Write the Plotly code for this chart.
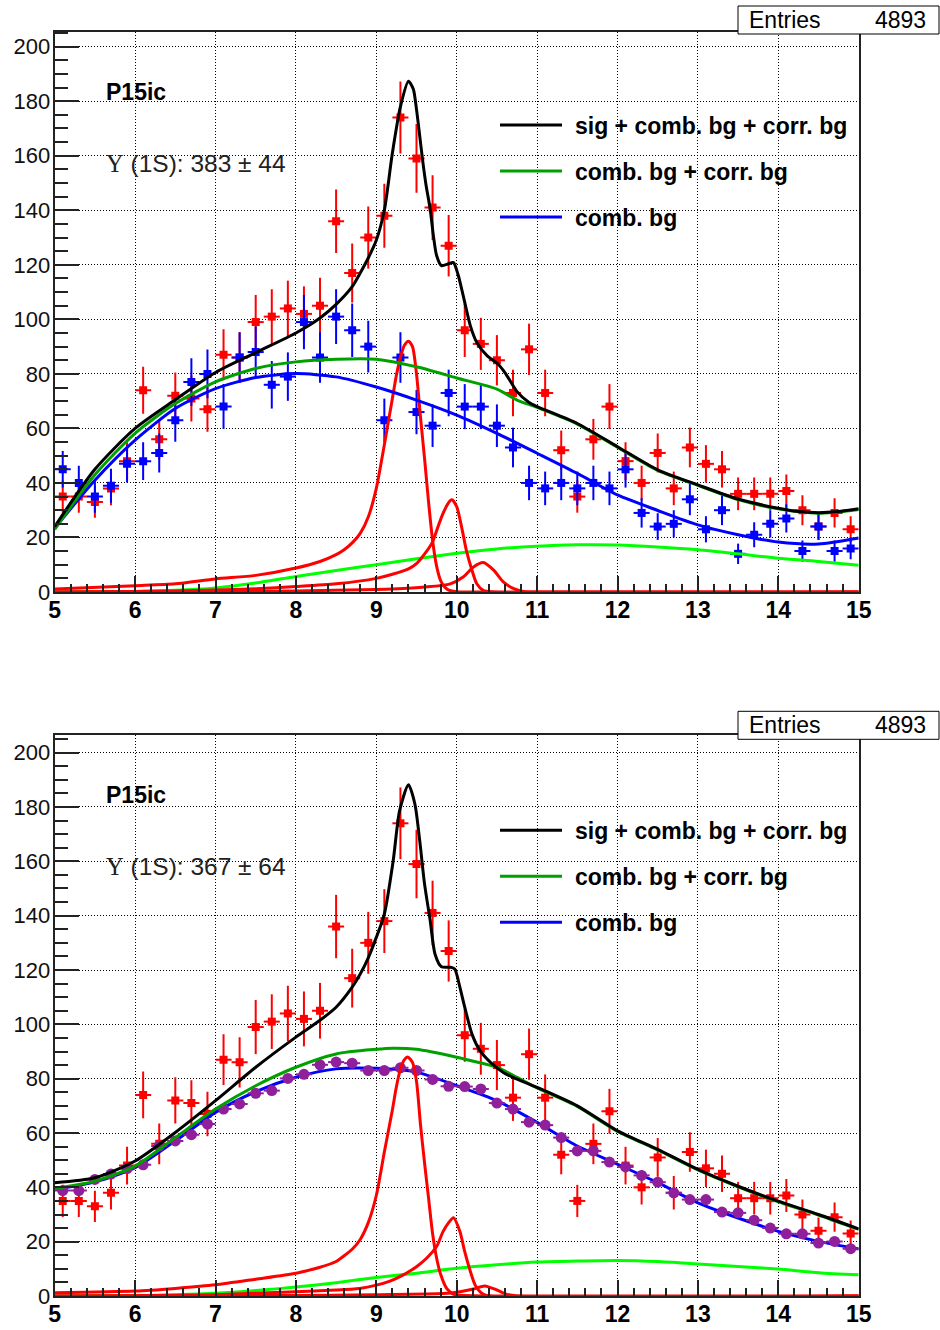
import numpy as np
import plotly.graph_objects as go

# ---------------- data ----------------
mass = [5.1, 5.3, 5.5, 5.7, 5.9, 6.1, 6.3, 6.5, 6.7, 6.9,
        7.1, 7.3, 7.5, 7.7, 7.9, 8.1, 8.3, 8.5, 8.7, 8.9,
        9.1, 9.3, 9.5, 9.7, 9.9, 10.1, 10.3, 10.5, 10.7, 10.9,
        11.1, 11.3, 11.5, 11.7, 11.9, 12.1, 12.3, 12.5, 12.7, 12.9,
        13.1, 13.3, 13.5, 13.7, 13.9, 14.1, 14.3, 14.5, 14.7, 14.9]

unlike_sign = [35, 35, 33, 38, 48, 74, 56, 72, 71, 67,
               87, 86, 99, 101, 104, 102, 105, 136, 117, 130,
               138, 174, 159, 141, 127, 96, 91, 85, 73, 89,
               73, 52, 35, 56, 68, 48, 40, 51, 38, 53,
               47, 45, 36, 36, 36, 37, 30, 24, 29, 23]

like_sign = [45, 40, 35, 39, 47, 48, 51, 63, 77, 80,
             68, 86, 88, 76, 79, 99, 86, 101, 96, 90,
             63, 86, 66, 61, 73, 68, 68, 61, 53, 40,
             38, 40, 38, 40, 38, 45, 29, 24, 25, 34,
             23, 30, 14, 21, 25, 27, 15, 24, 15, 16]

mixed_event = [38.8, 38.8, 42.9, 44.9, 46.9, 48.3, 55.2, 57.1, 59.4, 63.3,
               68.8, 70.7, 74.6, 75.6, 80.1, 81.6, 85.1, 86.1, 85.7, 83.0,
               83.0, 84.0, 83.0, 79.7, 77.2, 77.1, 76.2, 71.0, 68.8, 64.0,
               62.9, 58.3, 53.4, 53.4, 49.3, 47.5, 44.4, 41.9, 38.0, 35.5,
               35.5, 30.9, 30.6, 27.9, 25.0, 22.9, 22.9, 19.5, 20.1, 17.4]

entries = 4893
label_run = "P15ic"
yield_top = "383 ± 44"
yield_bot = "367 ± 64"

# --- top panel fit curves ---
t_total_x = [5.0, 5.5, 6.0, 6.5, 7.0, 7.5, 8.0, 8.3, 8.5, 8.7, 8.8, 8.9, 9.0, 9.1, 9.2, 9.3, 9.4, 9.46,
             9.5, 9.54, 9.58, 9.62, 9.67, 9.71, 9.75, 9.81, 9.9, 9.96, 10.02, 10.08, 10.17, 10.25,
             10.38, 10.5, 10.6, 10.75, 10.9, 11.0, 11.5, 12.0, 12.5, 13.0, 13.5, 14.0, 14.25, 14.5, 14.75, 15.0]
t_total_y = [24, 45, 60, 70.5, 80.5, 87.8, 95, 100.5, 105.5, 112, 117, 122.5, 129, 140, 161, 178, 187.3, 184.5,
             177, 167.3, 157.5, 149, 140.5, 130.7, 123.4, 119.7, 120.4, 120.8, 116.1, 108.8, 97.6, 91.5,
             86.6, 84, 80.5, 73.5, 69.5, 68, 61.8, 53.3, 44.8, 39.3, 34.1, 30.7, 29.5, 29.1, 29.5, 30.5]

t_bgsum_x = [5.0, 5.5, 6.0, 6.5, 7.0, 7.5, 8.0, 8.5, 9.0, 9.5, 10.0, 10.5, 10.75, 11.0, 11.5, 12.0,
             12.5, 13.0, 13.5, 14.0, 14.5, 15.0]
t_bgsum_y = [23, 43, 58.2, 69.1, 77.1, 82, 84.4, 85.4, 85.4, 82.6, 78.5, 74.4, 70.4, 67.7, 61.6, 53.1,
             44.6, 39.1, 33.9, 30.5, 28.9, 30.3]

t_comb_x = [5.0, 5.5, 6.0, 6.5, 7.0, 7.5, 8.0, 8.5, 9.0, 9.5, 10.0, 10.5, 11.0, 11.5, 12.0, 12.5,
            13.0, 13.5, 14.0, 14.5, 15.0]
t_comb_y = [23.4, 41, 55.7, 67.3, 74.6, 78.7, 80.1, 78.9, 75.2, 70.4, 64.9, 58.2, 50.9, 43.5, 35.6, 29.9,
            24.6, 21, 18.3, 17.6, 19.8]

t_corr_x = [5.0, 6.0, 6.5, 7.0, 7.5, 8.0, 8.5, 9.0, 9.5, 10.0, 10.5, 11.0, 11.5, 12.0, 12.5, 13.0,
            13.5, 14.0, 14.5, 15.0]
t_corr_y = [0, 0.2, 0.6, 1.5, 3.3, 5.7, 7.9, 10, 12.2, 14.2, 15.8, 16.8, 17.3, 17.2, 16.5, 15.5,
            14, 12.4, 11.2, 9.8]

t_1s_x = [5.0, 6.0, 6.5, 7.0, 7.5, 8.0, 8.3, 8.5, 8.6, 8.7, 8.8, 8.9, 9.0, 9.1, 9.2, 9.25, 9.3, 9.35,
          9.4, 9.45, 9.5, 9.55, 9.6, 9.65, 9.7, 9.75, 9.8, 9.85, 9.9, 10.0, 10.5, 15.0]
t_1s_y = [1.1, 2.3, 3.0, 4.8, 6.1, 8.8, 11.2, 13.7, 15.5, 18, 21.5, 27.5, 38, 54, 71, 79.5, 86, 90.5,
          92, 90, 80, 64, 49, 33, 19, 9.5, 4.2, 1.8, 0.7, 0.1, 0, 0]

t_2s_x = [5.0, 6.0, 7.0, 7.5, 8.0, 8.5, 9.0, 9.2, 9.4, 9.5, 9.62, 9.7, 9.75, 9.83, 9.9, 9.94,
          10.0, 10.06, 10.12, 10.19, 10.25, 10.33, 10.45, 15.0]
t_2s_y = [0, 0.2, 0.7, 1.2, 2.0, 3.0, 5.0, 6.5, 8.5, 10.4, 14.7, 18.4, 22.5, 28.8, 32.8, 33.8,
          31.3, 24, 15.3, 8, 3, 0.6, 0, 0]

t_3s_x = [5.0, 7.0, 8.0, 9.0, 9.2, 9.6, 9.92, 10.08, 10.21, 10.33, 10.46, 10.58, 10.71, 10.83, 11.0, 15.0]
t_3s_y = [0, 0.1, 0.4, 0.9, 1.1, 1.8, 3.0, 5.5, 9.2, 10.8, 8.0, 3.7, 1.2, 0.2, 0, 0]

# --- bottom panel fit curves ---
b_total_x = [5.0, 5.5, 6.0, 6.5, 7.0, 7.5, 8.0, 8.3, 8.5, 8.7, 8.8, 8.9, 9.0, 9.1, 9.21, 9.29, 9.4,
             9.48, 9.54, 9.6, 9.67, 9.73, 9.81, 9.92, 9.975, 10.04, 10.1, 10.19, 10.29, 10.42, 10.58,
             10.7, 11.0, 11.5, 12.0, 12.5, 13.0, 13.5, 14.0, 14.5, 15.0]
b_total_y = [41.7, 43.5, 49.7, 60.2, 71.9, 84.2, 95.3, 101.5, 106.3, 113.7, 118.5, 124.5, 132, 140.6,
             160.2, 178.7, 188.2, 181.1, 167.6, 151.7, 138.2, 125.9, 121.2, 121, 120.4, 113.6, 106.3,
             96.4, 90.3, 86, 82.3, 80.5, 76.8, 70, 60.8, 54, 46.6, 40.4, 34.9, 30, 24.7]

b_bgsum_x = [5.0, 5.5, 6.0, 6.5, 7.0, 7.5, 8.0, 8.5, 9.0, 9.2, 9.5, 10.0, 10.17, 10.5, 10.75, 11.0,
             11.5, 12.0, 12.5, 13.0, 13.5, 14.0, 14.5, 15.0]
b_bgsum_y = [39.6, 42.3, 47.8, 58.3, 68.8, 77.4, 84.2, 89.1, 90.8, 91.2, 90.8, 87.9, 86.7, 84.2, 80.5,
             76.6, 69.8, 60.6, 53.8, 46.4, 40.2, 34.7, 29.8, 24.5]

b_comb_x = [5.0, 5.5, 6.0, 6.5, 7.0, 7.5, 8.0, 8.5, 9.0, 9.5, 10.0, 10.5, 11.0, 11.5, 12.0, 12.5,
            13.0, 13.5, 14.0, 14.5, 15.0]
b_comb_y = [39.2, 42, 47.2, 57.1, 67.6, 75.2, 80.5, 83.6, 83.8, 82.4, 77.4, 71.9, 63.9, 55.2, 48.5, 41.7,
            34.3, 28.7, 23.8, 20.1, 17.3]

b_corr_x = [5.0, 6.0, 6.5, 7.0, 7.5, 8.0, 8.5, 9.0, 9.5, 10.0, 10.5, 11.0, 11.5, 12.0, 12.5, 13.0,
            13.5, 14.0, 14.5, 15.0]
b_corr_y = [0, 0.2, 0.5, 1.0, 2.0, 3.3, 4.9, 6.8, 8.4, 10.2, 11.5, 12.5, 12.9, 13.1, 12.7, 11.8,
            10.9, 9.9, 8.6, 7.8]

b_1s_x = [5.0, 6.0, 6.5, 7.0, 7.5, 8.0, 8.3, 8.5, 8.6, 8.7, 8.8, 8.9, 9.0, 9.1, 9.2, 9.25, 9.3, 9.35,
          9.39, 9.45, 9.5, 9.55, 9.6, 9.65, 9.7, 9.75, 9.8, 9.875, 9.95, 10.0, 10.5, 15.0]
b_1s_y = [1.2, 1.8, 2.8, 4.1, 6.2, 8.4, 10.6, 12.7, 14.8, 17.2, 20.8, 27, 37, 53, 68.5, 77, 83.5, 87,
          88, 86, 79, 63, 49, 36, 23, 14, 8, 2.8, 0.8, 0.4, 0, 0]

b_2s_x = [5.0, 6.0, 7.0, 8.0, 8.5, 8.79, 9.0, 9.17, 9.33, 9.5, 9.625, 9.75, 9.83, 9.9, 9.96,
          10.04, 10.1, 10.17, 10.23, 10.31, 10.4, 15.0]
b_2s_y = [0, 0.1, 0.5, 1.6, 2.2, 2.8, 4.0, 5.5, 7.7, 10.8, 13.9, 18.2, 23.7, 27, 28.8,
          23.7, 16.3, 9, 4, 1, 0, 0]

b_3s_x = [5.0, 8.0, 9.0, 9.83, 10.04, 10.21, 10.35, 10.5, 10.625, 10.75, 15.0]
b_3s_y = [0, 0.2, 0.5, 0.9, 1.6, 2.6, 3.7, 2.2, 0.6, 0, 0]

legend_labels = ["sig + comb. bg + corr. bg", "comb. bg + corr. bg", "comb. bg"]

# ---------------- style ----------------
W, H = 940, 1330
FONT = "Liberation Sans, Arial, Helvetica, sans-serif"
RED = "#ff0000"
BLUE = "#0000ff"
BLACK = "#000000"
DGREEN = "#00a000"
LGREEN = "#00ff00"
PURPLE = "#8f1f9a"

X0, X1 = 54.7, 858.7
panels = [
    dict(top=31.7, bottom=592.0, ymax=205.5),
    dict(top=735.0, bottom=1296.0, ymax=206.5),
]

fig = go.Figure()


def px_x(p):
    return p / W


def px_y(p):
    return 1 - p / H


def curve(x, y, color, ax, width=3):
    xa, ya = ax
    fig.add_trace(go.Scatter(x=x, y=y, mode="lines", xaxis=xa, yaxis=ya,
                             line=dict(color=color, width=width, shape="spline", smoothing=0.7),
                             showlegend=False, hoverinfo="skip"))


def points(y, color, ax, symbol="square", size=8, yerr=True):
    xa, ya = ax
    kw = {}
    if yerr:
        kw["error_y"] = dict(type="data", array=list(np.sqrt(np.array(y, dtype=float))),
                             color=color, thickness=2, width=0)
    fig.add_trace(go.Scatter(x=mass, y=y, mode="markers", xaxis=xa, yaxis=ya,
                             marker=dict(symbol=symbol, size=size, color=color, line=dict(width=0)),
                             error_x=dict(type="constant", value=0.1, color=color, thickness=2, width=0),
                             showlegend=False, **kw))


top = ("x", "y")
bot = ("x2", "y2")

# top panel
points(unlike_sign, RED, top)
points(like_sign, BLUE, top)
curve(t_corr_x, t_corr_y, LGREEN, top)
curve(t_1s_x, t_1s_y, RED, top)
curve(t_2s_x, t_2s_y, RED, top)
curve(t_3s_x, t_3s_y, RED, top)
curve(t_comb_x, t_comb_y, BLUE, top)
curve(t_bgsum_x, t_bgsum_y, DGREEN, top)
curve(t_total_x, t_total_y, BLACK, top)

# bottom panel
points(unlike_sign, RED, bot)
curve(b_corr_x, b_corr_y, LGREEN, bot)
curve(b_comb_x, b_comb_y, BLUE, bot)
points(mixed_event, PURPLE, bot, symbol="circle", size=11, yerr=False)
curve(b_1s_x, b_1s_y, RED, bot)
curve(b_2s_x, b_2s_y, RED, bot)
curve(b_3s_x, b_3s_y, RED, bot)
curve(b_bgsum_x, b_bgsum_y, DGREEN, bot)
curve(b_total_x, b_total_y, BLACK, bot)

axis_common_x = dict(
    range=[5, 15], dtick=1, tick0=5, ticks="inside", ticklen=16, tickwidth=2, tickcolor="#222",
    showline=True, linecolor="#222", linewidth=2, mirror=True, automargin=False,
    showgrid=True, gridcolor="#000", gridwidth=1, griddash="1px,2px", zeroline=False,
    minor=dict(dtick=0.2, tick0=5, ticks="inside", ticklen=8, tickwidth=1.5, tickcolor="#222", showgrid=False),
    tickfont=dict(family=FONT, size=23, color="#000", weight="bold"),
    ticklabelstandoff=-4,
)
axis_common_y = dict(
    dtick=20, tick0=0, ticks="inside", ticklen=24, tickwidth=2, tickcolor="#222",
    showline=True, linecolor="#222", linewidth=2, mirror=True, automargin=False,
    showgrid=True, gridcolor="#000", gridwidth=1, griddash="1px,2px", zeroline=False,
    minor=dict(dtick=5, tick0=0, ticks="inside", ticklen=13, tickwidth=1.5, tickcolor="#222", showgrid=False),
    tickfont=dict(family=FONT, size=22, color="#111"),
    ticklabelstandoff=-2,
)

layout = dict(
    width=W, height=H, margin=dict(l=0, r=0, t=0, b=0, autoexpand=False),
    paper_bgcolor="white", plot_bgcolor="white", showlegend=False,
    font=dict(family=FONT, color="#000"),
)
for i, p in enumerate(panels):
    sx = "" if i == 0 else "2"
    xa = dict(axis_common_x, domain=[px_x(X0), px_x(X1)], anchor="y" + sx)
    ya = dict(axis_common_y, domain=[px_y(p["bottom"]), px_y(p["top"])], anchor="x" + sx,
              range=[0, p["ymax"]])
    layout["xaxis" + sx] = xa
    layout["yaxis" + sx] = ya
fig.update_layout(**layout)

shapes = []
annotations = []
line_colors = [BLACK, DGREEN, BLUE]
for i, p in enumerate(panels):
    off = p["top"] - panels[0]["top"]
    extra = 2 if i else 0
    # stats box
    shapes.append(dict(type="rect", xref="paper", yref="paper", layer="above",
                       x0=px_x(738), x1=px_x(939), y0=px_y(6 + off + extra),
                       y1=px_y(34 + off + extra),
                       line=dict(color="#000", width=1), fillcolor="white"))
    yc = 20 + off + extra
    annotations.append(dict(xref="paper", yref="paper", x=px_x(747), y=px_y(yc), text="Entries",
                            showarrow=False, xanchor="left", yanchor="middle",
                            font=dict(family=FONT, size=23, color="#000")))
    annotations.append(dict(xref="paper", yref="paper", x=px_x(928), y=px_y(yc), text=str(entries),
                            showarrow=False, xanchor="right", yanchor="middle",
                            font=dict(family=FONT, size=23, color="#000")))
    # labels
    annotations.append(dict(xref="paper", yref="paper", x=px_x(104), y=px_y(92 + off), text=label_run,
                            showarrow=False, xanchor="left", yanchor="middle",
                            font=dict(family=FONT, size=23, color="#000", weight="bold")))
    ytxt = yield_top if i == 0 else yield_bot
    annotations.append(dict(xref="paper", yref="paper", x=px_x(104), y=px_y(163 + off),
                            text='<span style="font-family:Liberation Serif">Υ</span> (1S): ' + ytxt,
                            showarrow=False, xanchor="left", yanchor="middle",
                            font=dict(family=FONT, size=24.5, color="#222")))
    # legend
    for k, (lab, col) in enumerate(zip(legend_labels, line_colors)):
        ly = 125 + 46 * k + off + extra
        shapes.append(dict(type="line", xref="paper", yref="paper", layer="above",
                           x0=px_x(500), x1=px_x(562), y0=px_y(ly), y1=px_y(ly),
                           line=dict(color=col, width=3)))
        annotations.append(dict(xref="paper", yref="paper", x=px_x(573), y=px_y(ly + 1), text=lab,
                                showarrow=False, xanchor="left", yanchor="middle",
                                font=dict(family=FONT, size=23, color="#000", weight="bold")))

fig.update_layout(shapes=shapes, annotations=annotations)
fig.write_html("out.html")
